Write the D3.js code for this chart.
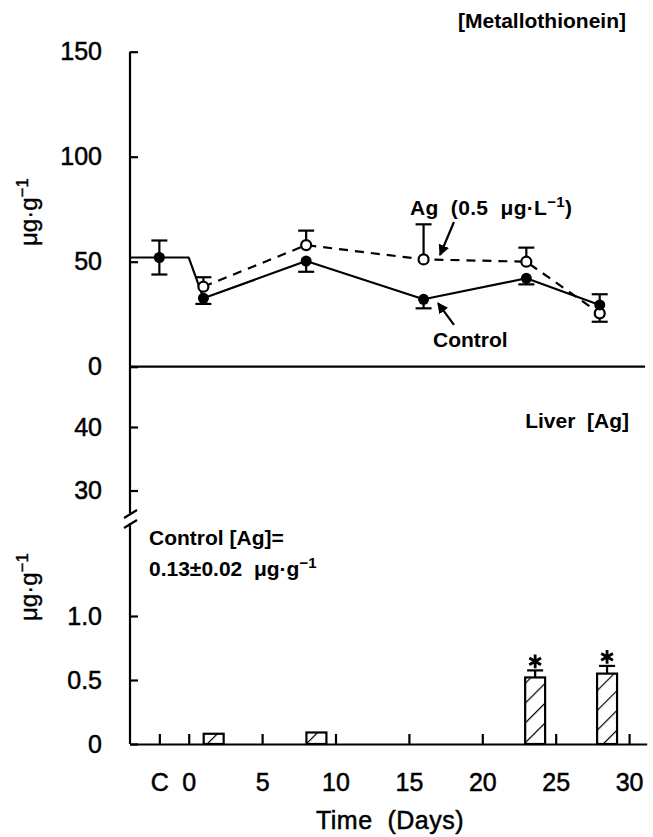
<!DOCTYPE html>
<html><head><meta charset="utf-8">
<script src="https://cdn.jsdelivr.net/npm/d3@7"></script>
<style>
body{margin:0;background:#fff}
svg{display:block}
text{font-family:"Liberation Sans",Arial,Helvetica,sans-serif;fill:#000}
</style>
</head><body>
<svg id="c" width="653" height="837"></svg>
<script>
// ---------- data ----------
const days = [1, 8, 16, 23, 28];
const controlDayC = -2;            // "C" pre-exposure control
const exposureStart = 0;
const controlC = 52, controlCErr = 8.1;
const controlMT = [32.6, 50.3, 32.1, 42.1, 29.4];
const controlErr = [-2.7, -5.1, -4.3, -2.9, 5.1];   // sign = direction drawn
const agMT = [38.1, 57.9, 51.1, 50.0, 25.4];
const agErr = [4.5, 6.9, 16.7, 6.7, -4.0];
const barDays = [1.7, 8.7, 23.6, 28.5];
const liverAg = [0.08, 0.09, 0.52, 0.55];
const liverErr = [0, 0, 0.055, 0.06];
const liverSig = [false, false, true, true];
const xTicks = [-2, 0, 5, 10, 15, 20, 25, 30];
const mtTicks = [0, 50, 100, 150];
const liverHiTicks = [30, 40];
const liverLoTicks = [0, 0.5, 1.0];

// ---------- scales ----------
const svg = d3.select("#c");
const x = d3.scaleLinear().domain([-4, 31.2]).range([130, 646.7]);
const yMT = d3.scaleLinear().domain([0, 150]).range([366.7, 51.7]);
const yHi = d3.scaleLinear().domain([30, 40]).range([490.5, 427]);
const yLo = d3.scaleLinear().domain([0, 1]).range([744, 616]);
const X0 = x.range()[0], X1 = x.range()[1];
const SW = 2.2;
const AF = 21; // annotation font size

// hatch pattern
const defs = svg.append("defs");
defs.append("pattern").attr("id", "hatch").attr("patternUnits", "userSpaceOnUse")
  .attr("width", 14).attr("height", 14).attr("patternTransform", "rotate(45)")
  .call(p => {
    p.append("rect").attr("width", 14).attr("height", 14).attr("fill", "#fff");
    p.append("line").attr("x1", 0).attr("y1", 0).attr("x2", 0).attr("y2", 14)
      .attr("stroke", "#000").attr("stroke-width", 2.4);
  });
defs.append("marker").attr("id", "arr").attr("viewBox", "0 0 10 10")
  .attr("refX", 9).attr("refY", 5).attr("markerWidth", 5).attr("markerHeight", 5)
  .attr("orient", "auto").attr("markerUnits", "strokeWidth")
  .append("path").attr("d", "M0,0 L10,5 L0,10 Z").attr("fill", "#000");

function styleAxis(g, fs) {
  g.selectAll(".tick line").attr("stroke", "#000").attr("stroke-width", SW);
  g.selectAll(".tick text").attr("font-size", fs).attr("fill", "#000")
    .attr("stroke", "#000").attr("stroke-width", 0.5);
  g.attr("font-family", null);
}

// ---------- y axes ----------
svg.append("g").attr("transform", `translate(${X0},0)`)
  .call(d3.axisLeft(yMT).tickValues(mtTicks).tickSize(-8).tickPadding(28))
  .call(g => g.select(".domain").remove()).call(g => styleAxis(g, 25));
svg.append("g").attr("transform", `translate(${X0},0)`)
  .call(d3.axisLeft(yHi).tickValues(liverHiTicks).tickSize(-8).tickPadding(28))
  .call(g => g.select(".domain").remove()).call(g => styleAxis(g, 25));
svg.append("g").attr("transform", `translate(${X0},0)`)
  .call(d3.axisLeft(yLo).tickValues(liverLoTicks).tickSize(-8).tickPadding(28)
    .tickFormat(d => d === 0 ? "0" : d3.format(".1f")(d)))
  .call(g => g.select(".domain").remove()).call(g => styleAxis(g, 25));

// vertical axis line with break
const breakTop = 513, breakBot = 523;
svg.append("path").attr("d", `M${X0},${yMT(150)}V${breakTop}M${X0},${breakBot}V${yLo(0)}`)
  .attr("stroke", "#000").attr("stroke-width", SW).attr("fill", "none");
svg.append("path").attr("d", `M${X0-6},${breakTop+5}L${X0+7},${breakTop-3}M${X0-6},${breakBot+5}L${X0+7},${breakBot-3}`)
  .attr("stroke", "#000").attr("stroke-width", SW).attr("fill", "none");

// top panel zero line
svg.append("line").attr("x1", X0).attr("x2", 645).attr("y1", yMT(0)).attr("y2", yMT(0))
  .attr("stroke", "#000").attr("stroke-width", SW);

// ---------- x axis ----------
svg.append("g").attr("transform", `translate(0,${yLo(0)})`)
  .call(d3.axisBottom(x).tickValues(xTicks).tickSize(-10).tickSizeOuter(0).tickPadding(29)
    .tickFormat(d => d === -2 ? "C" : d))
  .call(g => g.select(".domain").attr("stroke", "#000").attr("stroke-width", SW))
  .call(g => styleAxis(g, 25));
svg.append("text").attr("x", 390).attr("y", 829).attr("text-anchor", "middle")
  .attr("font-size", 25).attr("letter-spacing", 0.5).attr("stroke", "#000").attr("stroke-width", 0.5)
  .style("white-space", "pre").text("Time  (Days)");

// ---------- MT lines ----------
const ctrlLine = [[x.domain()[0], controlC], [controlDayC, controlC], [exposureStart, controlC]]
  .concat(days.map((d, i) => [d, controlMT[i]]));
const agLine = days.map((d, i) => [d, agMT[i]]);
const line = d3.line().x(d => x(d[0])).y(d => yMT(d[1]));
svg.append("path").attr("d", line(ctrlLine)).attr("fill", "none").attr("stroke", "#000")
  .attr("stroke-width", SW).attr("stroke-linejoin", "round");
svg.append("path").attr("d", line(agLine)).attr("fill", "none").attr("stroke", "#000")
  .attr("stroke-width", SW).attr("stroke-dasharray", "9,7");

// error bars
function errBar(cx, y0, y1) {
  const g = svg.append("g").attr("stroke", "#000").attr("stroke-width", SW);
  g.append("line").attr("x1", cx).attr("x2", cx).attr("y1", y0).attr("y2", y1);
  g.append("line").attr("x1", cx - 8).attr("x2", cx + 8).attr("y1", y1).attr("y2", y1);
}
errBar(x(controlDayC), yMT(controlC), yMT(controlC + controlCErr));
errBar(x(controlDayC), yMT(controlC), yMT(controlC - controlCErr));
days.forEach((d, i) => errBar(x(d), yMT(controlMT[i]), yMT(controlMT[i] + controlErr[i])));

// markers
svg.append("circle").attr("cx", x(controlDayC)).attr("cy", yMT(controlC)).attr("r", 5.5).attr("fill", "#000");
svg.selectAll(".ag").data(days).join("circle").attr("class", "ag")
  .attr("cx", d => x(d)).attr("cy", (d, i) => yMT(agMT[i])).attr("r", 5)
  .attr("fill", "#fff").attr("stroke", "#000").attr("stroke-width", 2.2);
days.forEach((d, i) => errBar(x(d), yMT(agMT[i]) + (agErr[i] > 0 ? -5 : 5), yMT(agMT[i] + agErr[i])));
svg.selectAll(".ct").data(days).join("circle").attr("class", "ct")
  .attr("cx", d => x(d)).attr("cy", (d, i) => yMT(controlMT[i])).attr("r", 5.5).attr("fill", "#000");

// labels + arrows
svg.append("text").attr("x", 410).attr("y", 215).attr("font-size", AF).attr("font-weight", "bold")
  .attr("letter-spacing", 0.3).style("white-space", "pre")
  .call(t => {
    t.append("tspan").text("Ag  (0.5  μg·L");
    t.append("tspan").attr("dy", -8).attr("font-size", 15).text("−1");
    t.append("tspan").attr("dy", 8).text(")");
  });
svg.append("text").attr("x", 433).attr("y", 347).attr("font-size", AF).attr("font-weight", "bold").text("Control");
svg.append("line").attr("x1", x(18.07)).attr("y1", yMT(68.9)).attr("x2", x(17.12)).attr("y2", yMT(53.2))
  .attr("stroke", "#000").attr("stroke-width", 2.2).attr("marker-end", "url(#arr)");
svg.append("line").attr("x1", x(18.07)).attr("y1", yMT(19.9)).attr("x2", x(16.98)).attr("y2", yMT(30.3))
  .attr("stroke", "#000").attr("stroke-width", 2.2).attr("marker-end", "url(#arr)");

// ---------- liver bars ----------
const bw = 1.36;
svg.selectAll(".bar").data(barDays).join("rect").attr("class", "bar")
  .attr("x", d => x(d - bw / 2)).attr("width", x(bw) - x(0))
  .attr("y", (d, i) => yLo(liverAg[i])).attr("height", (d, i) => yLo(0) - yLo(liverAg[i]))
  .attr("fill", "url(#hatch)").attr("stroke", "#000").attr("stroke-width", SW);
barDays.forEach((d, i) => {
  if (liverErr[i] > 0) errBar(x(d), yLo(liverAg[i]), yLo(liverAg[i] + liverErr[i]));
  if (liverSig[i]) {
    svg.append("path").attr("d", d3.symbol(d3.symbolAsterisk, 130)())
      .attr("transform", `translate(${x(d)},${yLo(liverAg[i] + liverErr[i]) - 9})`)
      .attr("fill", "none").attr("stroke", "#000").attr("stroke-width", 2.8);
  }
});

// ---------- text annotations ----------
svg.append("text").attr("x", 626).attr("y", 28).attr("text-anchor", "end").attr("font-size", AF)
  .attr("font-weight", "bold").text("[Metallothionein]");
svg.append("text").attr("x", 629).attr("y", 428).attr("text-anchor", "end").attr("font-size", AF)
  .attr("font-weight", "bold").style("white-space", "pre").text("Liver  [Ag]");
svg.append("text").attr("x", 149).attr("y", 545).attr("font-size", AF).attr("font-weight", "bold")
  .text("Control [Ag]=");
svg.append("text").attr("x", 149).attr("y", 576).attr("font-size", AF).attr("font-weight", "bold")
  .style("white-space", "pre")
  .call(t => {
    t.append("tspan").text("0.13±0.02  μg·g");
    t.append("tspan").attr("dy", -8).attr("font-size", 15).text("−1");
  });
function yTitle(cy) {
  svg.append("text").attr("transform", `translate(37,${cy}) rotate(-90)`).attr("text-anchor", "middle")
    .attr("font-size", 24).attr("stroke", "#000").attr("stroke-width", 0.4)
    .call(t => {
      t.append("tspan").text("μg·g");
      t.append("tspan").attr("dy", -9).attr("font-size", 17).text("−1");
    });
}
yTitle(212);
yTitle(587);
</script>
</body></html>
